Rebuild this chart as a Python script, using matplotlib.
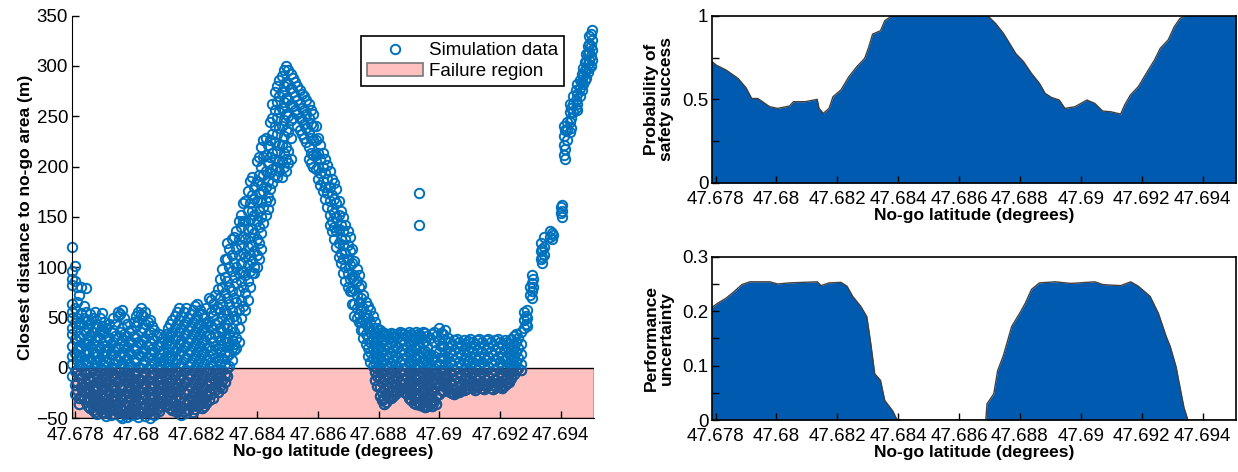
import numpy as np
import matplotlib.pyplot as plt
from matplotlib.patches import Rectangle

plt.rcParams['font.family'] = ['Liberation Sans', 'DejaVu Sans']
plt.rcParams['font.size'] = 13.5

# Simulation data: latitude columns and the distances seen at each one
sim_lat = [47.67790, 47.67805, 47.67820, 47.67835, 47.67850, 47.67865, 47.67880, 47.67895,
           47.67910, 47.67925, 47.67940, 47.67955, 47.67970, 47.67985, 47.68000, 47.68015,
           47.68030, 47.68045, 47.68060, 47.68075, 47.68090, 47.68105, 47.68120, 47.68135,
           47.68150, 47.68165, 47.68180, 47.68195, 47.68210, 47.68225, 47.68240, 47.68255,
           47.68270, 47.68285, 47.68300, 47.68315, 47.68330, 47.68345, 47.68360, 47.68375,
           47.68390, 47.68405, 47.68420, 47.68435, 47.68450, 47.68465, 47.68480, 47.68495,
           47.68510, 47.68525, 47.68540, 47.68555, 47.68570, 47.68585, 47.68600, 47.68615,
           47.68630, 47.68645, 47.68660, 47.68675, 47.68690, 47.68705, 47.68720, 47.68735,
           47.68750, 47.68765, 47.68780, 47.68795, 47.68810, 47.68825, 47.68840, 47.68855,
           47.68870, 47.68885, 47.68900, 47.68915, 47.68930, 47.68945, 47.68960, 47.68975,
           47.68990, 47.69005, 47.69020, 47.69035, 47.69050, 47.69065, 47.69080, 47.69095,
           47.69110, 47.69125, 47.69140, 47.69155, 47.69170, 47.69185, 47.69200, 47.69215,
           47.69230, 47.69245, 47.69260, 47.69280, 47.69285, 47.69305, 47.69310, 47.69335,
           47.69345, 47.69365, 47.69370, 47.69405, 47.69410, 47.69420, 47.69430, 47.69440,
           47.69455, 47.69465, 47.69475, 47.69485, 47.69495, 47.69505, 47.68932]
sim_dist = [
    [120, 96, 88, 82, 64, 56, 50, 40, 34, 22, 12, 4, -8],
    [80, 66, 50, 38, 27, 18, 8, -2, -14, -22],
    [80, 55, 44, 30, 20, 12, 2, -10, -19, -28],
    [79, 56, 47, 35, 24, 14, 3, -6, -16, -25, -34],
    [54, 45, 33, 22, 10, -3, -13, -24, -31, -40],
    [56, 40, 28, 15, 6, -5, -18, -27, -38, -44],
    [50, 37, 30, 19, 8, -4, -15, -26, -33, -41],
    [46, 35, 22, 12, 3, -9, -20, -30, -37, -45],
    [44, 30, 20, 9, -2, -12, -24, -34, -42],
    [50, 38, 26, 14, 4, -7, -17, -28, -39, -46],
    [56, 52, 30, 20, 8, -3, -14, -25, -36, -44],
    [58, 40, 28, 16, 5, -8, -20, -31, -42, -50],
    [44, 32, 21, 10, -1, -12, -23, -34, -45, -49],
    [38, 26, 14, 2, -10, -21, -30, -40, -47],
    [52, 42, 30, 18, 6, -6, -18, -28, -38, -46],
    [60, 54, 36, 24, 12, 0, -12, -24, -35, -44],
    [56, 44, 30, 18, 7, -4, -15, -26, -37, -48],
    [48, 36, 25, 14, 2, -9, -20, -31, -42, -50],
    [38, 28, 16, 5, -7, -18, -29, -38, -47],
    [34, 22, 10, -2, -14, -25, -35, -43],
    [30, 18, 8, -4, -16, -26, -34],
    [40, 28, 16, 4, -6, -18, -28, -36],
    [48, 36, 24, 12, 0, -12, -24, -34, -42],
    [56, 44, 32, 20, 9, -3, -15, -27, -37, -44],
    [52, 40, 28, 17, 5, -7, -19, -30, -40, -47],
    [60, 46, 34, 22, 10, -2, -14, -26, -36, -45],
    [54, 42, 30, 18, 6, -6, -18, -29, -38],
    [62, 48, 36, 24, 12, 0, -12, -24, -34, -41],
    [58, 44, 34, 22, 10, -2, -14, -26, -36],
    [50, 40, 28, 16, 4, -8, -20, -30, -38],
    [70, 46, 34, 22, 12, 0, -12, -23, -32],
    [64, 52, 40, 26, 14, 2, -10, -20, -30],
    [78, 60, 46, 32, 20, 8, -4, -14, -24],
    [98, 80, 64, 50, 36, 22, 10, -2, -12, -20],
    [124, 108, 86, 70, 54, 40, 26, 12, 0, -8],
    [128, 112, 96, 76, 58, 40, 28, 20, 8],
    [136, 118, 100, 84, 66, 48, 30, 20],
    [152, 140, 122, 104, 86, 68, 50],
    [166, 146, 128, 110, 92, 74, 58],
    [186, 164, 148, 130, 112, 96, 80],
    [180, 168, 152, 134, 116, 100, 94],
    [210, 192, 174, 156, 140, 124, 108],
    [226, 210, 192, 176, 160, 144],
    [222, 204, 186, 170, 158],
    [262, 248, 232, 214, 198, 184],
    [280, 264, 248, 232, 216, 200, 190],
    [290, 274, 258, 240, 222, 206, 190],
    [300, 284, 268, 252, 236, 220, 208, 196],
    [292, 278, 262, 246, 228, 208],
    [284, 270, 256],
    [276, 262, 248, 236],
    [270, 256, 242, 228],
    [262, 248, 234, 220, 208],
    [252, 240, 226, 212, 200],
    [228, 214, 200, 188],
    [214, 200, 186, 176],
    [202, 188, 174, 160],
    [188, 172, 158, 146, 136],
    [178, 164, 150, 136, 120],
    [156, 142, 128, 114, 104],
    [142, 128, 114, 100, 86],
    [130, 116, 102, 88, 76],
    [106, 92, 78, 64, 52],
    [92, 80, 66, 54, 46],
    [72, 60, 48, 38, 30],
    [62, 50, 40, 30, 20, 12],
    [52, 40, 30, 20, 10, 2],
    [40, 30, 20, 10, 0, -8, -18],
    [36, 26, 16, 6, -4, -14, -24, -32],
    [34, 24, 14, 4, -6, -16, -26, -34],
    [35, 25, 15, 5, -5, -15, -24, -30],
    [32, 22, 12, 2, -8, -18, -26],
    [36, 26, 16, 6, -4, -14, -22],
    [34, 24, 14, 4, -6, -16, -24],
    [36, 26, 16, 6, -4, -14, -22, -30],
    [30, 20, 10, 0, -10, -20, -28, -35],
    [34, 24, 14, 4, -6, -16, -26, -34],
    [36, 26, 16, 6, -4, -14, -24, -34, -38],
    [32, 22, 12, 2, -8, -18, -28, -38],
    [34, 8, -2, -12, -22, -32, -38],
    [32, 18, 6, -6, -16, -28, -36],
    [35, 22, 10, -2, -12, -22],
    [38, 28, 16, 4, -8, -18],
    [26, 16, 6, -4, -14, -24],
    [28, 18, 8, -2, -12, -22, -26],
    [26, 16, 6, -4, -14, -24],
    [28, 18, 8, -2, -12, -22],
    [27, 17, 7, -3, -13, -20],
    [26, 16, 6, -4, -14, -20],
    [28, 18, 8, -2, -12, -19],
    [26, 16, 6, -4, -14, -20],
    [28, 18, 8, -2, -12, -18],
    [26, 16, 6, -4, -14, -20],
    [28, 18, 8, -2, -12, -18],
    [26, 16, 6, -4, -14, -19],
    [28, 18, 8, -2, -12, -17],
    [24, 14, 4, -6, -14],
    [32, 22, 12, 2, -6],
    [30, 20, 10, 0],
    [56, 48, 40],
    [52, 44],
    [92, 84, 76, 70],
    [88, 80],
    [124, 116, 108],
    [130, 120, 112],
    [136, 130],
    [134, 128],
    [162, 156, 150],
    [240, 230, 222, 212],
    [244, 236, 226],
    [262, 254, 244, 234],
    [270, 262, 254],
    [282, 272, 262, 256],
    [286, 278, 270],
    [298, 290, 282],
    [312, 304, 296, 288],
    [330, 322, 314, 306, 298],
    [336, 326, 316, 306],
    [174, 142],
]

# second, interleaved set of simulation columns
sim_lat_b = [47.67798, 47.67812, 47.67828, 47.67842, 47.67858, 47.67872, 47.67888, 47.67902,
             47.67918, 47.67932, 47.67948, 47.67962, 47.67978, 47.67992, 47.68008, 47.68022,
             47.68038, 47.68052, 47.68068, 47.68082, 47.68098, 47.68112, 47.68128, 47.68142,
             47.68158, 47.68172, 47.68188, 47.68202, 47.68218, 47.68232, 47.68248, 47.68262,
             47.68278, 47.68292,
             47.68308, 47.68322, 47.68338, 47.68352, 47.68368, 47.68382, 47.68398, 47.68412,
             47.68428, 47.68442, 47.68458, 47.68472, 47.68488, 47.68502,
             47.68517, 47.68532, 47.68548, 47.68562, 47.68578, 47.68592, 47.68608, 47.68622,
             47.68638, 47.68652, 47.68668, 47.68682, 47.68698, 47.68712, 47.68728, 47.68742,
             47.68758, 47.68772, 47.68788,
             47.68803, 47.68818, 47.68832, 47.68848, 47.68862, 47.68878, 47.68892, 47.68908,
             47.68922, 47.68938, 47.68952, 47.68968, 47.68982, 47.68998, 47.69012, 47.69028,
             47.69042, 47.69058, 47.69072, 47.69088, 47.69102, 47.69118, 47.69132, 47.69148,
             47.69162, 47.69178, 47.69192, 47.69208, 47.69222, 47.69238, 47.69252, 47.69268,
             47.69290, 47.69298, 47.69340, 47.69375, 47.69400, 47.69415, 47.69435, 47.69450,
             47.69470, 47.69480, 47.69490, 47.69500]
sim_dist_b = [
    [101, 86, 60, 45, 29, 15, -3, -17, -26],
    [72, 44, 32, 22, 13, 3, -7, -30, -36],
    [62, 50, 38, 25, 8, -4, -22, -31],
    [48, 40, 28, 17, 7, -10, -20, -29, -38],
    [50, 36, 24, 16, 0, -9, -22, -34, -42],
    [44, 32, 22, 12, 1, -11, -22, -32, -46],
    [55, 42, 25, 14, -1, -10, -21, -37, -44],
    [40, 28, 17, 6, -5, -15, -26, -41, -48],
    [36, 24, 14, 0, -7, -18, -30, -38, -47],
    [44, 32, 20, 9, -1, -11, -22, -33, -42],
    [54, 36, 24, 12, 1, -10, -20, -30, -40, -48],
    [50, 34, 22, 12, 0, -12, -26, -37, -46],
    [36, 26, 16, 4, -6, -17, -28, -38, -44],
    [46, 32, 20, 8, -4, -15, -26, -35, -43],
    [56, 46, 26, 14, 1, -11, -22, -33, -42, -49],
    [52, 40, 28, 16, 4, -8, -20, -30, -40],
    [46, 34, 22, 11, -1, -12, -23, -34, -44],
    [42, 30, 19, 8, -4, -15, -26, -36, -46],
    [32, 22, 11, 1, -11, -22, -32, -41],
    [26, 14, 3, -9, -20, -30, -38],
    [34, 24, 12, 0, -11, -22, -31, -38],
    [44, 33, 22, 10, -2, -14, -24, -32, -40],
    [52, 40, 29, 17, 5, -7, -19, -30, -39],
    [60, 48, 36, 24, 13, 1, -11, -22, -32, -42],
    [56, 44, 33, 21, 9, -3, -15, -25, -34, -43],
    [50, 38, 26, 14, 2, -10, -22, -32, -42],
    [58, 46, 34, 22, 10, -2, -14, -25, -36, -44],
    [64, 52, 40, 28, 16, 4, -8, -20, -30, -38],
    [54, 38, 26, 14, 2, -10, -22, -32, -40],
    [60, 44, 32, 20, 8, -4, -16, -27, -35],
    [68, 56, 42, 30, 18, 6, -6, -16, -26],
    [72, 58, 44, 34, 22, 10, -2, -12, -22],
    [88, 70, 56, 40, 28, 16, 4, -8, -18],
    [108, 90, 74, 58, 44, 30, 16, 4, -6, -14],
    [118, 100, 80, 64, 48, 34, 22, 14, 2],
    [130, 104, 90, 70, 52, 36, 24, 18],
    [146, 128, 112, 94, 76, 58, 40, 26],
    [164, 146, 130, 114, 96, 80, 62],
    [176, 156, 138, 120, 102, 86, 68],
    [190, 172, 156, 138, 122, 106, 94],
    [206, 186, 166, 146, 128, 112, 100],
    [220, 200, 182, 166, 150, 134, 118],
    [228, 212, 196, 180, 166, 152],
    [244, 226, 210, 194, 178, 166],
    [274, 256, 240, 224, 208, 192],
    [286, 270, 254, 238, 222, 206, 196],
    [296, 280, 264, 246, 230, 214, 200],
    [296, 282, 266, 250, 234, 216, 204],
    [288, 274, 260, 248],
    [280, 266, 252, 240],
    [272, 258, 246, 232],
    [266, 252, 238, 224],
    [256, 242, 228, 214, 204],
    [240, 226, 212, 198],
    [222, 208, 194, 182],
    [208, 194, 180, 168],
    [196, 180, 166, 152, 142],
    [184, 168, 154, 140, 128],
    [166, 152, 138, 124, 110],
    [150, 136, 122, 108, 94],
    [136, 122, 108, 94, 80],
    [118, 104, 90, 76, 64],
    [98, 86, 72, 60, 50],
    [82, 70, 58, 46, 38],
    [66, 54, 44, 34, 24],
    [58, 46, 36, 26, 16, 6],
    [46, 36, 26, 16, 6, -4, -12],
    [38, 31, 21, 11, 1, -9, -19, -28],
    [35, 29, 19, 9, -1, -11, -21, -30, -36],
    [33, 30, 20, 10, 0, -10, -20, -29],
    [34, 27, 17, 7, -3, -13, -22, -28],
    [34, 31, 21, 11, 1, -9, -18, -24],
    [35, 29, 19, 9, -1, -11, -20],
    [33, 31, 21, 11, 1, -9, -19, -26],
    [34, 25, 15, 5, -5, -15, -25, -32],
    [36, 29, 19, 9, -1, -11, -21, -30, -36],
    [33, 31, 21, 11, 1, -9, -19, -29, -37],
    [35, 27, 17, 7, -3, -13, -23, -33, -39],
    [30, 14, 3, -7, -17, -27, -36],
    [36, 26, 12, 0, -11, -22, -33],
    [40, 28, 16, 4, -7, -17, -26],
    [34, 22, 10, -2, -13, -23],
    [30, 21, 11, 1, -9, -19],
    [24, 13, 3, -7, -17, -25],
    [29, 21, 11, 1, -9, -19, -24],
    [23, 13, 3, -7, -17, -22],
    [24, 13, 3, -7, -17, -21],
    [29, 21, 11, 1, -9, -18],
    [24, 11, 1, -9, -17, -22],
    [29, 21, 11, 1, -9, -17],
    [23, 11, 1, -9, -17, -21],
    [29, 21, 11, 1, -9, -17],
    [23, 13, 3, -7, -17, -21],
    [29, 21, 11, 1, -9, -16],
    [24, 11, 1, -9, -17, -20],
    [26, 21, 11, 1, -9, -15],
    [29, 18, 8, -2, -10],
    [34, 26, 16, 6, -2],
    [36, 24, 14, 4, -2],
    [58, 50, 42],
    [80, 72],
    [118, 110, 104],
    [132],
    [160, 154],
    [236, 218, 208],
    [258, 248, 238],
    [276, 266, 258],
    [292, 284, 276],
    [304, 296, 286],
    [320, 312, 302, 294],
    [332, 320, 310, 300],
]

# Probability of safety success
prob_lat = [47.67786, 47.67802, 47.67835, 47.67874, 47.67900, 47.67919, 47.67939, 47.67978,
            47.68004, 47.68043, 47.68056, 47.68095, 47.68134, 47.68140, 47.68154, 47.68173,
            47.68186, 47.68212, 47.68238, 47.68264, 47.68290, 47.68303, 47.68316, 47.68342,
            47.68356, 47.68375, 47.68395, 47.68694, 47.68720, 47.68746, 47.68766, 47.68786,
            47.68812, 47.68838, 47.68864, 47.68883, 47.68903, 47.68929, 47.68948, 47.68981,
            47.69020, 47.69046, 47.69072, 47.69098, 47.69131, 47.69144, 47.69163, 47.69189,
            47.69215, 47.69242, 47.69261, 47.69287, 47.69307, 47.69326, 47.69345, 47.69510]
prob_val = [0.73, 0.705, 0.675, 0.625, 0.57, 0.505, 0.505, 0.456, 0.446, 0.46, 0.486, 0.486,
            0.50, 0.446, 0.416, 0.446, 0.516, 0.556, 0.635, 0.695, 0.745, 0.81, 0.89, 0.91,
            0.97, 0.994, 1.0, 1.0, 0.954, 0.894, 0.835, 0.775, 0.725, 0.655, 0.596, 0.536,
            0.512, 0.496, 0.446, 0.456, 0.496, 0.476, 0.43, 0.426, 0.412, 0.466, 0.526, 0.576,
            0.655, 0.735, 0.805, 0.855, 0.934, 0.984, 1.0, 1.0]

# Performance uncertainty
unc_lat = [47.67786, 47.67808, 47.67835, 47.67861, 47.67887, 47.67913, 47.67978, 47.68004,
           47.68043, 47.68134, 47.68147, 47.68173, 47.68212, 47.68232, 47.68251, 47.68277,
           47.68297, 47.68310, 47.68323, 47.68342, 47.68356, 47.68382, 47.68395, 47.68410,
           47.68688, 47.68692, 47.68714, 47.68727, 47.68746, 47.68773, 47.68799, 47.68818,
           47.68838, 47.68864, 47.68916, 47.68968, 47.69046, 47.69072, 47.69098, 47.69131,
           47.69164, 47.69189, 47.69228, 47.69255, 47.69281, 47.69294, 47.69313, 47.69326,
           47.69339, 47.69352, 47.69510]
unc_val = [0.206, 0.215, 0.224, 0.236, 0.249, 0.254, 0.254, 0.25, 0.252, 0.254, 0.247, 0.252,
           0.253, 0.246, 0.227, 0.209, 0.19, 0.141, 0.085, 0.073, 0.036, 0.017, 0.002, 0.0,
           0.0, 0.03, 0.048, 0.091, 0.119, 0.172, 0.196, 0.215, 0.24, 0.252, 0.254, 0.251,
           0.254, 0.249, 0.248, 0.247, 0.254, 0.246, 0.227, 0.196, 0.153, 0.135, 0.098, 0.06,
           0.023, 0.0, 0.0]

lat_ticks = [47.678, 47.68, 47.682, 47.684, 47.686, 47.688, 47.69, 47.692, 47.694]
lat_labels = ['47.678', '47.68', '47.682', '47.684', '47.686', '47.688', '47.69', '47.692', '47.694']
xlim = (47.6779, 47.6951)

blue = '#0072BD'
fill_blue = '#005AB0'
pink = '#FFC0C0'

assert len(sim_lat) == len(sim_dist) and len(sim_lat_b) == len(sim_dist_b)
all_lat = sim_lat + sim_lat_b
all_dist = sim_dist + sim_dist_b
xs = np.concatenate([[la] * len(d) for la, d in zip(all_lat, all_dist)])
ys = np.concatenate([np.array(d, dtype=float) for d in all_dist])

fig = plt.figure(figsize=(12.38, 4.72), dpi=100)

# ---- left: closest distance scatter ----
ax = fig.add_axes([0.0584, 0.1138, 0.4214, 0.853])
rect = Rectangle((xlim[0], -50), xlim[1] - xlim[0], 50, facecolor=pink,
                 edgecolor='black', lw=1.0, zorder=1)
ax.add_patch(rect)
pts, = ax.plot(xs, ys, 'o', mfc='none', mec=blue, ms=6.8, mew=1.4, zorder=2,
               clip_on=False)
# points inside the failure box look darker in the original
dark, = ax.plot(xs, ys, 'o', mfc='none', mec='#1F5591', ms=6.8, mew=1.4, zorder=3)
dark.set_clip_path(rect)
ax.set_xlim(xlim)
ax.set_ylim(-50, 350)
ax.set_yticks(np.arange(-50, 351, 50))
ax.set_xticks(lat_ticks)
ax.set_xticklabels(lat_labels)
for s in ['top', 'right']:
    ax.spines[s].set_visible(False)
ax.tick_params(direction='in', length=5, width=1, pad=3)
ax.tick_params(axis='x', pad=6)
ax.set_xlabel('No-go latitude (degrees)', fontweight='bold', fontsize=12.5, labelpad=0)
ax.set_ylabel('Closest distance to no-go area (m)', fontweight='bold', fontsize=12.5,
              labelpad=2)
leg_patch = Rectangle((0, 0), 1, 1, facecolor=pink, edgecolor='#777777', lw=1.2)
leg = ax.legend([pts, leg_patch], ['Simulation data', 'Failure region'],
                loc='upper right', bbox_to_anchor=(0.96, 0.972), fancybox=False,
                edgecolor='black', framealpha=1, borderpad=0.3, handlelength=3.0,
                handletextpad=0.3, labelspacing=0.2, fontsize=13.5)
leg.get_frame().set_linewidth(1.2)

# ---- top right: probability of safety success ----
ax1 = fig.add_axes([0.5755, 0.6123, 0.4229, 0.3544])
ax1.fill_between(prob_lat, 0, prob_val, color=fill_blue, lw=0)
ax1.plot(prob_lat, prob_val, color='#404040', lw=1.0)
ax1.set_xlim(xlim)
ax1.set_ylim(0, 1)
ax1.set_yticks([0, 0.25, 0.5, 0.75, 1])
ax1.set_yticklabels(['0', '', '0.5', '', '1'])
ax1.set_xticks(lat_ticks)
ax1.set_xticklabels(lat_labels)
ax1.tick_params(direction='in', length=5, width=1, pad=3)
ax1.tick_params(axis='x', pad=6)
ax1.set_xlabel('No-go latitude (degrees)', fontweight='bold', fontsize=12.5, labelpad=0)
ax1.set_ylabel('Probability of\nsafety success', fontweight='bold', fontsize=12.5,
               labelpad=6, linespacing=0.95)

# ---- bottom right: performance uncertainty ----
ax2 = fig.add_axes([0.5755, 0.110, 0.4229, 0.346])
ax2.fill_between(unc_lat, 0, unc_val, color=fill_blue, lw=0)
ax2.plot(unc_lat, unc_val, color='#404040', lw=1.0)
ax2.set_xlim(xlim)
ax2.set_ylim(0, 0.3)
ax2.set_yticks([0, 0.05, 0.1, 0.15, 0.2, 0.25, 0.3])
ax2.set_yticklabels(['0', '', '0.1', '', '0.2', '', '0.3'])
ax2.set_xticks(lat_ticks)
ax2.set_xticklabels(lat_labels)
ax2.tick_params(direction='in', length=5, width=1, pad=3)
ax2.tick_params(axis='x', pad=6)
ax2.set_xlabel('No-go latitude (degrees)', fontweight='bold', fontsize=12.5, labelpad=0)
ax2.set_ylabel('Performance\nuncertainty', fontweight='bold', fontsize=12.5,
               labelpad=6, linespacing=0.95)

for a in (ax1, ax2):
    for s in a.spines.values():
        s.set_linewidth(1.2)

fig.savefig('out.png', dpi=100)
